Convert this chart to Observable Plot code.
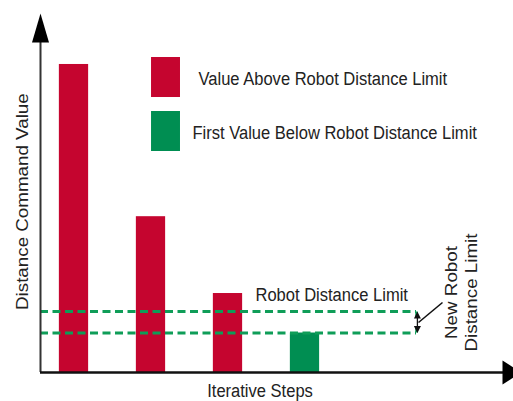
<!DOCTYPE html>
<html>
<head>
<meta charset="utf-8">
<script src="https://cdn.jsdelivr.net/npm/d3@7"></script>
<script src="https://cdn.jsdelivr.net/npm/@observablehq/plot@0.6"></script>
<style>
  html, body { margin: 0; padding: 0; background: #fff; }
  #chart svg { display: block; }
</style>
</head>
<body>
<div id="chart"></div>
<script>
// ---- data ----
const steps = [1, 2, 3, 4];
const values = [85.8, 43.4, 22, 11];
const status = ["above", "above", "above", "below"];
const robotLimit = 17;
const newRobotLimit = 11;
const legendKeys = ["above", "below"];
const legendLabels = ["Value Above Robot Distance Limit", "First Value Below Robot Distance Limit"];
const xTitle = "Iterative Steps";
const yTitle = "Distance Command Value";
const limitLabel = "Robot Distance Limit";
const newLimitLabel = "New Robot\nDistance Limit";

// ---- styling ----
const RED = "#c5052f";
const GREEN = "#008e52";
const DASH = "#0f9d58";
const INK = "#222";
const X0 = 0.565, X1 = 6.708;      // x scale domain (step units)
const barWidth = 0.38;
const markerX = 5.448;

const data = steps.map((s, i) => ({step: s, value: values[i], status: status[i]}));

const headUp = {draw(c) { c.moveTo(0, 0); c.lineTo(3.5, 7); c.lineTo(-3.5, 7); c.closePath(); }};
const headDown = {draw(c) { c.moveTo(0, 0); c.lineTo(3.5, -7); c.lineTo(-3.5, -7); c.closePath(); }};
const yArrow = {draw(c) { c.moveTo(0, 0); c.lineTo(8.5, 29); c.lineTo(-8.5, 29); c.closePath(); }};
const xArrow = {draw(c) { c.moveTo(8, 0); c.lineTo(-11, -12); c.lineTo(-11, 12); c.closePath(); }};

const svg = Plot.plot({
  width: 513,
  height: 401,
  marginLeft: 40,
  marginRight: 0,
  marginTop: 13,
  marginBottom: 29,
  x: {domain: [X0, X1], axis: null},
  y: {domain: [0, 100], axis: null},
  color: {domain: legendKeys, range: [RED, GREEN]},
  style: {fontFamily: "'Liberation Sans', Arial, sans-serif", fontSize: "18.8px", color: INK, background: "#fff"},
  marks: [
    Plot.rectY(data, {x1: d => d.step - barWidth / 2, x2: d => d.step + barWidth / 2, y: "value", fill: "status"}),
    Plot.ruleY([robotLimit, newRobotLimit], {x1: X0, x2: markerX, stroke: DASH, strokeWidth: 3, strokeDasharray: "8,4.5"}),
    Plot.ruleX([markerX], {y1: newRobotLimit, y2: robotLimit, stroke: DASH, strokeWidth: 2.5, strokeDasharray: "5,11"}),
    Plot.ruleX([markerX + 0.012], {y1: newRobotLimit + 1, y2: robotLimit - 1, stroke: "#111", strokeWidth: 1.3}),
    Plot.dot([robotLimit], {x: markerX + 0.012, y: d => d, symbol: headUp, fill: "#111", stroke: "none"}),
    Plot.dot([newRobotLimit], {x: markerX + 0.012, y: d => d, symbol: headDown, fill: "#111", stroke: "none"}),
    Plot.link([newLimitLabel], {x1: 5.474, y1: 13.93, x2: 5.786, y2: 19.5, stroke: "#111", strokeWidth: 1.6}),
    // legend
    Plot.rect(legendKeys, {x1: 2.007, x2: 2.383, y1: (d, i) => 76.6 - i * 15.04, y2: (d, i) => 87.74 - i * 15.04, fill: d => d}),
    Plot.text(legendLabels, {x: (d, i) => [2.617, 2.539][i], y: (d, i) => 80.2 - i * 15.1, text: d => d, textAnchor: "start", lineAnchor: "bottom", fill: INK}),
    // annotations
    Plot.text([limitLabel], {x: 3.357, y: 19.78, text: d => d, textAnchor: "start", lineAnchor: "bottom", fill: INK}),
    Plot.text([newLimitLabel], {x: 6.24, y: 22.28, text: d => d, rotate: -90, textAnchor: "middle", lineAnchor: "bottom", lineHeight: 1.21, fill: INK}),
    // axis titles
    Plot.text([xTitle], {x: 3.416, y: -6.8, text: d => d, textAnchor: "middle", lineAnchor: "bottom", fill: INK}),
    Plot.text([yTitle], {x: 0.409, y: 47.6, text: d => d, rotate: -90, textAnchor: "middle", lineAnchor: "bottom", fill: INK}),
    // axes with arrowheads
    Plot.ruleX([X0], {y1: 0, y2: 94, stroke: "#333", strokeWidth: 2}),
    Plot.ruleY([0], {stroke: "#111", strokeWidth: 2.5}),
    Plot.dot([0], {x: X0, y: 100, symbol: yArrow, fill: "#000", stroke: "none"}),
    Plot.dot([0], {x: X1, y: 0, symbol: xArrow, fill: "#000", stroke: "none"})
  ]
});

// the reference picture is horizontally condensed: squeeze the glyphs to match
d3.select(svg).selectAll("text").each(function() {
  let t = this.getAttribute("transform");
  if (!t) {
    const x = +this.getAttribute("x") || 0, y = +this.getAttribute("y") || 0;
    t = `translate(${x},${y})`;
    this.setAttribute("x", 0); this.setAttribute("y", 0);
  }
  const rotated = /rotate/.test(t);
  this.setAttribute("transform", t + (rotated ? " scale(1,0.88)" : " scale(0.88,1)"));
});

document.getElementById("chart").appendChild(svg);
</script>
</body>
</html>
